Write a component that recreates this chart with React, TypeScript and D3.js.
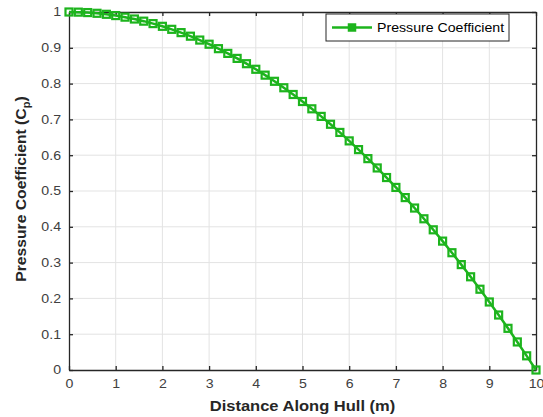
import * as d3 from "d3";
import React, { useEffect, useRef } from "react";

// distance along hull (m)
const distance = [
  0, 0.2, 0.4, 0.6, 0.8, 1, 1.2, 1.4, 1.6, 1.8, 2, 2.2, 2.4, 2.6, 2.8, 3, 3.2, 3.4, 3.6, 3.8,
  4, 4.2, 4.4, 4.6, 4.8, 5, 5.2, 5.4, 5.6, 5.8, 6, 6.2, 6.4, 6.6, 6.8, 7, 7.2, 7.4, 7.6, 7.8,
  8, 8.2, 8.4, 8.6, 8.8, 9, 9.2, 9.4, 9.6, 9.8, 10,
];
// pressure coefficient values
const cp = [
  1.0, 0.9996, 0.9984, 0.9964, 0.9936, 0.99, 0.9856, 0.9804, 0.9744, 0.9676, 0.96, 0.9516,
  0.9424, 0.9324, 0.9216, 0.91, 0.8976, 0.8844, 0.8704, 0.8556, 0.84, 0.8236, 0.8064, 0.7884,
  0.7696, 0.75, 0.7296, 0.7084, 0.6864, 0.6636, 0.64, 0.6156, 0.5904, 0.5644, 0.5376, 0.51,
  0.4816, 0.4524, 0.4224, 0.3916, 0.36, 0.3276, 0.2944, 0.2604, 0.2256, 0.19, 0.1536, 0.1164,
  0.0784, 0.0396, 0,
];
const xTicks = [0, 1, 2, 3, 4, 5, 6, 7, 8, 9, 10];
const yTicks = [0, 0.1, 0.2, 0.3, 0.4, 0.5, 0.6, 0.7, 0.8, 0.9, 1];
const seriesName = "Pressure Coefficient";

export default function App() {
  const ref = useRef<SVGSVGElement>(null);

  useEffect(() => {
    const svg = d3.select(ref.current);
    svg.selectAll("*").remove();

    const W = 543, H = 417;
    const m = { left: 69, right: 7, top: 12, bottom: 47 };
    const green = "#1db41d";
    const axisCol = "#262626";
    const font = "'Liberation Sans', Arial, sans-serif";
    const k = 1.18; // the source picture is a little wider than tall

    const x = d3.scaleLinear().domain([0, 10]).range([m.left, W - m.right]);
    const y = d3.scaleLinear().domain([0, 1]).range([H - m.bottom, m.top]);

    // widen a text element around its own anchor point
    const widen = (el: any) => {
      const t = d3.select(el);
      const tx = +(t.attr("x") || 0);
      t.attr("transform", `translate(${tx},0) scale(${k},1) translate(${-tx},0)`);
    };

    svg.append("rect").attr("width", W).attr("height", H).attr("fill", "#fff");

    const g = svg.append("g");

    // grid
    g.append("g")
      .selectAll("line")
      .data(xTicks.slice(1, -1))
      .join("line")
      .attr("x1", (d) => x(d)).attr("x2", (d) => x(d))
      .attr("y1", y(0)).attr("y2", y(1))
      .attr("stroke", "#e3e3e3").attr("stroke-width", 1);
    g.append("g")
      .selectAll("line")
      .data(yTicks.slice(1, -1))
      .join("line")
      .attr("y1", (d) => y(d)).attr("y2", (d) => y(d))
      .attr("x1", x(0)).attr("x2", x(10))
      .attr("stroke", "#e3e3e3").attr("stroke-width", 1);

    // axes (box with inward ticks on all sides)
    const styleAxis = (sel: any) => {
      sel.select(".domain").attr("stroke", axisCol).attr("stroke-width", 1.3);
      sel.selectAll(".tick line").attr("stroke", axisCol).attr("stroke-width", 1.3);
      sel.selectAll("text")
        .attr("fill", "#404040").style("font-size", "12px").style("font-family", font)
        .each(function (this: any) { widen(this); });
    };
    g.append("g")
      .attr("transform", `translate(0,${y(0)})`)
      .call(d3.axisBottom(x).tickValues(xTicks).tickSize(-4).tickPadding(9).tickSizeOuter(0).tickFormat(d3.format("d")))
      .call(styleAxis);
    g.append("g")
      .attr("transform", `translate(0,${y(1)})`)
      .call(d3.axisTop(x).tickValues(xTicks).tickSize(-4).tickSizeOuter(0).tickFormat(() => ""))
      .call(styleAxis);
    g.append("g")
      .attr("transform", `translate(${x(0)},0)`)
      .call(d3.axisLeft(y).tickValues(yTicks).tickSize(-4).tickPadding(8).tickSizeOuter(0).tickFormat((d: any) => d3.format("~g")(d)))
      .call(styleAxis);
    g.append("g")
      .attr("transform", `translate(${x(10)},0)`)
      .call(d3.axisRight(y).tickValues(yTicks).tickSize(-4).tickSizeOuter(0).tickFormat(() => ""))
      .call(styleAxis);

    // series
    const pts = distance.map((d, i) => [d, cp[i]] as [number, number]);
    const line = d3.line<[number, number]>().x((d) => x(d[0])).y((d) => y(d[1]));
    g.append("path")
      .attr("d", line(pts))
      .attr("fill", "none")
      .attr("stroke", green)
      .attr("stroke-width", 2.5);
    const ms = 7;
    g.append("g")
      .selectAll("rect")
      .data(pts)
      .join("rect")
      .attr("x", (d) => x(d[0]) - ms / 2)
      .attr("y", (d) => y(d[1]) - ms / 2)
      .attr("width", ms).attr("height", ms)
      .attr("fill", "none")
      .attr("stroke", green)
      .attr("stroke-width", 2.2);

    // axis titles
    svg.append("text")
      .attr("x", (x(0) + x(10)) / 2).attr("y", 411)
      .attr("text-anchor", "middle")
      .style("font-family", font).style("font-size", "14px").style("font-weight", "bold")
      .attr("fill", "#262626")
      .text("Distance Along Hull (m)")
      .each(function (this: any) { widen(this); });
    const yt = svg.append("text")
      .attr("transform", `translate(26,${(y(0) + y(1)) / 2 - 2}) rotate(-90) scale(1.12,1)`)
      .attr("text-anchor", "middle")
      .style("font-family", font).style("font-size", "14px").style("font-weight", "bold")
      .attr("fill", "#262626");
    yt.append("tspan").text("Pressure Coefficient (C");
    yt.append("tspan").attr("dy", 4).style("font-size", "10px").text("p");
    yt.append("tspan").attr("dy", -4).text(")");

    // legend
    const lg = svg.append("g").attr("transform", "translate(326,14)");
    lg.append("rect")
      .attr("width", 183).attr("height", 27)
      .attr("fill", "#fff").attr("stroke", "#262626").attr("stroke-width", 1);
    lg.append("line")
      .attr("x1", 6).attr("x2", 46).attr("y1", 13.5).attr("y2", 13.5)
      .attr("stroke", green).attr("stroke-width", 2.5);
    lg.append("rect")
      .attr("x", 26 - ms / 2).attr("y", 13.5 - ms / 2)
      .attr("width", ms).attr("height", ms)
      .attr("fill", green).attr("stroke", green).attr("stroke-width", 1.5);
    lg.append("text")
      .attr("x", 51).attr("y", 18)
      .style("font-family", font).style("font-size", "12px")
      .attr("fill", "#000")
      .text(seriesName)
      .each(function (this: any) { widen(this); });
  }, []);

  return (
    <svg
      ref={ref}
      width={543}
      height={417}
      style={{ position: "absolute", left: 0, top: 0, display: "block" }}
    />
  );
}
